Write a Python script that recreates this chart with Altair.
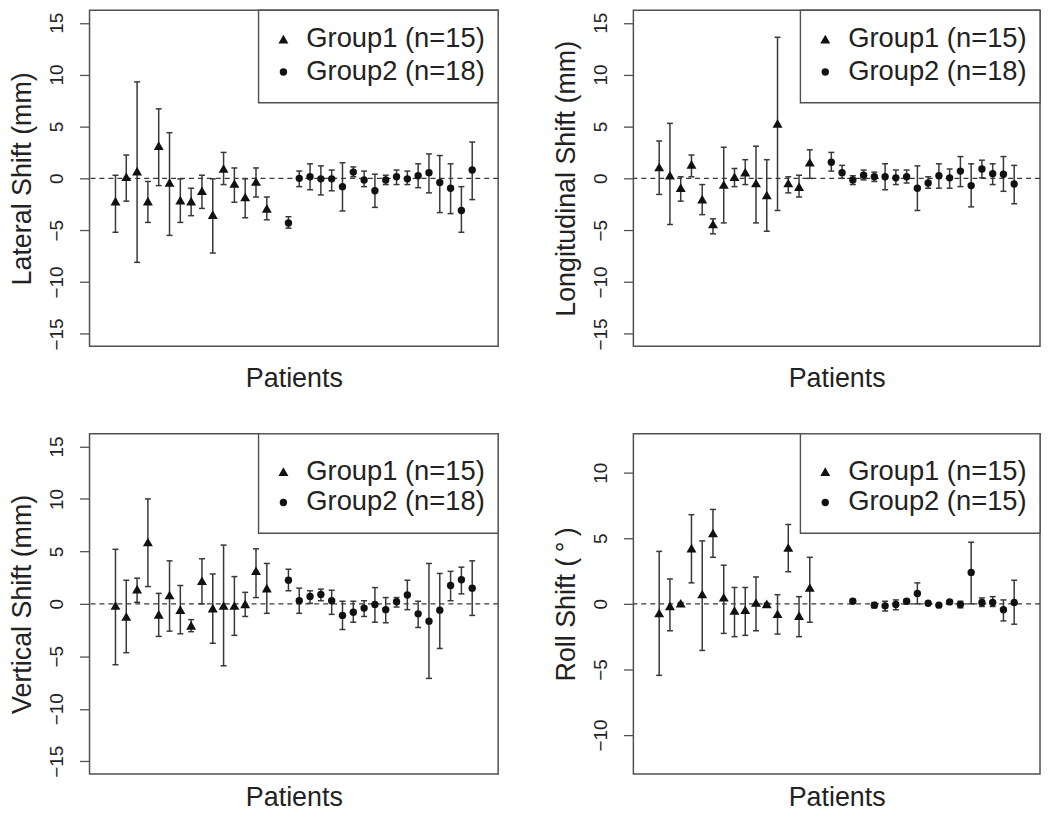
import altair as alt
import pandas as pd

FONT = "Liberation Sans"

# Patient positions on the x axis
pos_g1 = list(range(1, 16))
pos_g2 = list(range(17, 35))
pos_g2_roll = [19] + list(range(21, 35))

# ---- Lateral shift (mm)
lat_g1_mean = [-2.2, 0.15, 0.7, -2.2, 3.15, -0.4, -2.1, -2.2, -1.2, -3.5, 0.95, -0.5, -1.8, -0.3, -2.9]
lat_g1_lo = [-5.2, -2.2, -8.1, -4.25, -0.7, -5.5, -4.25, -3.6, -2.9, -7.2, -0.6, -2.3, -3.8, -1.8, -4.0]
lat_g1_hi = [0.3, 2.25, 9.3, -0.3, 6.7, 4.4, -0.05, -0.95, 0.3, -0.05, 2.5, 1.0, -0.05, 1.0, -1.8]
lat_g2_mean = [-4.3, 0.0, 0.15, -0.05, -0.05, -0.8, 0.6, -0.15, -1.2, -0.15, 0.15, -0.05, 0.25, 0.55, -0.4, -0.95, -3.1, 0.8]
lat_g2_lo = [-4.8, -0.8, -1.1, -1.6, -1.2, -3.15, 0.15, -0.8, -2.8, -0.6, -0.6, -0.6, -0.9, -1.4, -3.3, -3.4, -5.2, -2.05]
lat_g2_hi = [-3.7, 0.7, 1.4, 1.2, 0.8, 1.5, 1.1, 0.7, 0.4, 0.3, 0.8, 0.7, 1.4, 2.35, 2.2, 1.4, -0.8, 3.5]

# ---- Longitudinal shift (mm)
lon_g1_mean = [1.1, 0.3, -0.9, 1.35, -2.0, -4.4, -0.6, 0.15, 0.6, -0.45, -1.6, 5.3, -0.45, -0.8, 1.55]
lon_g1_lo = [-1.55, -4.45, -2.2, 0.15, -3.5, -5.35, -4.3, -0.8, -0.6, -4.3, -5.1, -3.1, -1.4, -1.8, 0.0]
lon_g1_hi = [3.6, 5.3, 0.15, 2.25, -0.6, -3.9, 3.0, 0.95, 1.8, 3.1, 1.8, 13.6, 0.15, 0.3, 2.75]
lon_g2_mean = [1.55, 0.55, -0.15, 0.3, 0.15, 0.15, 0.05, 0.15, -0.95, -0.45, 0.25, 0.05, 0.7, -0.7, 0.9, 0.45, 0.4, -0.55]
lon_g2_lo = [0.7, 0.0, -0.6, -0.15, -0.3, -1.1, -0.6, -0.45, -3.1, -0.95, -0.95, -0.95, -0.8, -2.75, 0.05, -0.6, -1.25, -2.45]
lon_g2_hi = [2.5, 1.25, 0.25, 0.8, 0.6, 1.4, 0.8, 0.8, 1.2, 0.15, 1.4, 0.9, 2.1, 1.4, 1.75, 1.4, 2.1, 1.25]

# ---- Vertical shift (mm)
ver_g1_mean = [-0.15, -1.2, 1.4, 5.9, -1.0, 0.85, -0.55, -2.05, 2.2, -0.4, -0.15, -0.15, 0.0, 3.15, 1.5]
ver_g1_lo = [-5.8, -4.65, 0.15, 1.65, -3.1, -2.6, -2.85, -2.65, 0.0, -3.75, -5.9, -3.0, -1.2, 0.6, -0.9]
ver_g1_hi = [5.2, 2.25, 2.45, 10.0, 1.0, 4.1, 1.75, -1.5, 4.3, 2.85, 5.6, 2.6, 1.1, 5.25, 3.85]
ver_g2_mean = [2.25, 0.3, 0.7, 0.9, 0.3, -1.1, -0.8, -0.4, -0.05, -0.55, 0.2, 0.85, -0.95, -1.65, -0.6, 1.75, 2.3, 1.5]
ver_g2_lo = [1.25, -0.9, 0.05, 0.3, -1.0, -2.45, -1.75, -1.2, -1.75, -1.8, -0.3, -0.55, -2.25, -7.1, -4.25, 0.3, 0.95, -1.1]
ver_g2_hi = [3.3, 1.5, 1.25, 1.4, 1.3, 0.25, 0.25, 0.3, 1.55, 0.6, 0.6, 2.25, 0.25, 3.85, 2.9, 3.1, 3.5, 4.1]

# ---- Roll shift (degrees)
rol_g1_mean = [-0.7, -0.15, 0.05, 4.25, 0.75, 5.4, 0.5, -0.5, -0.45, 0.1, 0.0, -0.75, 4.3, -0.9, 1.25]
rol_g1_lo = [-5.45, -2.05, 0.0, 1.6, -3.55, 3.55, -2.25, -2.5, -2.4, -2.05, -0.05, -2.3, 2.45, -2.5, -1.4]
rol_g1_hi = [4.0, 1.9, 0.1, 6.8, 4.8, 7.2, 2.95, 1.25, 1.25, 2.05, 0.05, 0.7, 6.05, 0.55, 3.55]
rol_g2_mean = [0.2, -0.1, -0.15, -0.05, 0.2, 0.8, 0.05, -0.1, 0.15, -0.05, 2.4, 0.1, 0.1, -0.45, 0.1]
rol_g2_lo = [0.05, -0.3, -0.55, -0.45, 0.0, 0.0, -0.05, -0.2, 0.05, -0.3, 0.0, -0.2, -0.2, -1.3, -1.55]
rol_g2_hi = [0.35, 0.1, 0.2, 0.3, 0.35, 1.6, 0.15, 0.0, 0.25, 0.2, 4.7, 0.45, 0.55, 0.3, 1.8]

ticks_mm = [-15, -10, -5, 0, 5, 10, 15]
ticks_deg = [-10, -5, 0, 5, 10]
dom_mm = [-16.2, 16.2]
dom_deg = [-12.96, 12.96]
x_dom = [-1.4, 36.4]

TXT = "#222222"
BAR = "#383838"
PT = "#111111"
FRAME = "#505050"


def frame(pos, mean, lo, hi):
    return pd.DataFrame({"pos": pos, "mean": mean, "lo": lo, "hi": hi})


def panel(g1, g2, ytitle, ticks, dom, w, h, labels, leg_h, rows, xpad):
    xs = alt.Scale(domain=x_dom, nice=False, zero=False)
    ys = alt.Scale(domain=dom, nice=False, zero=False)
    both = pd.concat([g1, g2], ignore_index=True)

    x_axis = alt.Axis(title="Patients", labels=False, ticks=False, domain=False,
                      grid=False, titleFontSize=27, titleFontWeight="normal",
                      titlePadding=xpad, titleColor=TXT, titleFont=FONT)
    y_axis = alt.Axis(title=ytitle, values=ticks, grid=False, domain=False,
                      tickSize=10, tickColor=FRAME, tickWidth=1.3,
                      labelAngle=270, labelAlign="center", labelBaseline="alphabetic",
                      labelPadding=17, labelFontSize=19, labelColor=TXT, labelFont=FONT,
                      titleFontSize=27, titleFontWeight="normal", titleColor=TXT,
                      titleFont=FONT, titleAngle=270, titleAlign="center",
                      titleBaseline="top", titleX=-80, titleY=h / 2)

    X = alt.X("pos:Q", scale=xs, axis=x_axis)

    zero = alt.Chart(pd.DataFrame({"z": [0.0]})).mark_rule(
        color=BAR, strokeDash=[5, 4], strokeWidth=1.2
    ).encode(y=alt.Y("z:Q", scale=ys, axis=y_axis, title=ytitle))

    bars = alt.Chart(both).mark_rule(color=BAR, strokeWidth=1.5).encode(
        x=X,
        y=alt.Y("lo:Q", scale=ys, axis=y_axis, title=ytitle),
        y2="hi:Q",
    )
    cap_lo = alt.Chart(both).mark_tick(orient="horizontal", size=6, thickness=1.5,
                                       color=BAR, opacity=1).encode(
        x=X, y=alt.Y("lo:Q", scale=ys, axis=y_axis, title=ytitle),
    )
    cap_hi = alt.Chart(both).mark_tick(orient="horizontal", size=6, thickness=1.5,
                                       color=BAR, opacity=1).encode(
        x=X, y=alt.Y("hi:Q", scale=ys, axis=y_axis, title=ytitle),
    )
    tri = alt.Chart(g1).mark_point(shape="triangle-up", filled=True, size=100,
                                   color=PT, opacity=1).encode(
        x=X, y=alt.Y("mean:Q", scale=ys, axis=y_axis, title=ytitle),
    )
    cir = alt.Chart(g2).mark_point(shape="circle", filled=True, size=55,
                                   color=PT, opacity=1).encode(
        x=X, y=alt.Y("mean:Q", scale=ys, axis=y_axis, title=ytitle),
    )

    one = pd.DataFrame({"a": [0]})
    box = alt.Chart(one).mark_rect(fill="white", stroke=FRAME, strokeWidth=1.4).encode(
        x=alt.value(w - 241), x2=alt.value(w), y=alt.value(0), y2=alt.value(leg_h)
    )
    s1 = alt.Chart(one).mark_point(shape="triangle-up", filled=True, size=100,
                                   color=PT, opacity=1).encode(
        x=alt.value(w - 216), y=alt.value(rows[0]))
    s2 = alt.Chart(one).mark_point(shape="circle", filled=True, size=55,
                                   color=PT, opacity=1).encode(
        x=alt.value(w - 216), y=alt.value(rows[1]))
    t1 = alt.Chart(one).mark_text(align="left", baseline="middle", fontSize=27.5,
                                  font=FONT, color=TXT).encode(
        x=alt.value(w - 193), y=alt.value(rows[0]), text=alt.value(labels[0]))
    t2 = alt.Chart(one).mark_text(align="left", baseline="middle", fontSize=27.5,
                                  font=FONT, color=TXT).encode(
        x=alt.value(w - 193), y=alt.value(rows[1]), text=alt.value(labels[1]))

    return alt.layer(zero, bars, cap_lo, cap_hi, tri, cir, box, s1, s2, t1, t2).properties(
        width=w, height=h)


lab_18 = ["Group1 (n=15)", "Group2 (n=18)"]
lab_15 = ["Group1 (n=15)", "Group2 (n=15)"]

H_TOP = 338
H_BOT = 342
W_L = 411
W_R = 409

p1 = panel(frame(pos_g1, lat_g1_mean, lat_g1_lo, lat_g1_hi),
           frame(pos_g2, lat_g2_mean, lat_g2_lo, lat_g2_hi),
           "Lateral Shift (mm)", ticks_mm, dom_mm, W_L, H_TOP, lab_18, 93, [29, 62], 19)
p2 = panel(frame(pos_g1, lon_g1_mean, lon_g1_lo, lon_g1_hi),
           frame(pos_g2, lon_g2_mean, lon_g2_lo, lon_g2_hi),
           "Longitudinal Shift (mm)", ticks_mm, dom_mm, W_R, H_TOP, lab_18, 93, [29, 62], 19)
p3 = panel(frame(pos_g1, ver_g1_mean, ver_g1_lo, ver_g1_hi),
           frame(pos_g2, ver_g2_mean, ver_g2_lo, ver_g2_hi),
           "Vertical Shift (mm)", ticks_mm, dom_mm, W_L, H_BOT, lab_18, 100, [38, 69], 11)
p4 = panel(frame(pos_g1, rol_g1_mean, rol_g1_lo, rol_g1_hi),
           frame(pos_g2_roll, rol_g2_mean, rol_g2_lo, rol_g2_hi),
           "Roll Shift (\u2009°\u2009)", ticks_deg, dom_deg, W_R, H_BOT, lab_15, 100, [38, 69], 11)

chart = alt.ConcatChart(
    concat=[p1, p2, p3, p4], columns=2,
    spacing={"row": 88, "column": 136}, bounds="flush", align="each",
).properties(
    autosize=alt.AutoSizeParams(type="none"),
    padding={"left": 82, "top": 0, "right": 958, "bottom": 803},
).configure_view(stroke=FRAME, strokeWidth=1.5)

chart.save("out.html", embed_options={"renderer": "svg", "actions": False})
